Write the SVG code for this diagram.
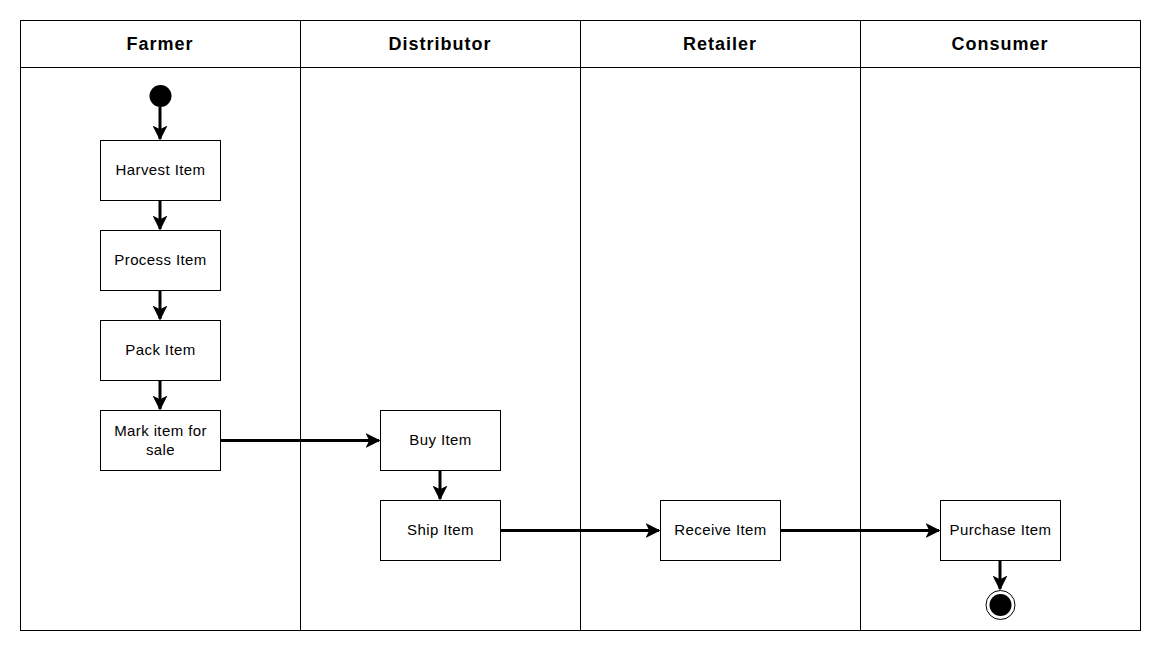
<svg xmlns="http://www.w3.org/2000/svg" width="1161" height="651" viewBox="0 0 1161 651">
<style>
.lane{fill:none;stroke:#000;stroke-width:1}
.hdr{font-family:"Liberation Sans",Arial,sans-serif;font-size:18px;font-weight:bold;letter-spacing:1px;text-anchor:middle;fill:#000}
.box{fill:#fff;stroke:#000;stroke-width:1}
.lbl{font-family:"Liberation Sans",Arial,sans-serif;font-size:15px;letter-spacing:0.4px;text-anchor:middle;fill:#000}
.edge{fill:none;stroke:#000;stroke-width:3}
</style>
<defs>
<marker id="arr" viewBox="0 0 10 10" refX="9" refY="5" markerWidth="5" markerHeight="5" orient="auto" markerUnits="strokeWidth">
<path d="M0,0 L10,5 L0,10 L2.5,5 Z" fill="#000"/>
</marker>
</defs>
<rect width="1161" height="651" fill="#fff"/>
<g id="pool">
<rect class="lane" x="20.5" y="20.5" width="1120" height="610"/>
<line class="lane" x1="20" y1="67.5" x2="1140" y2="67.5"/>
<line class="lane" x1="300.5" y1="20" x2="300.5" y2="630"/>
<line class="lane" x1="580.5" y1="20" x2="580.5" y2="630"/>
<line class="lane" x1="860.5" y1="20" x2="860.5" y2="630"/>
<text class="hdr" x="160" y="50">Farmer</text>
<text class="hdr" x="440" y="50">Distributor</text>
<text class="hdr" x="720" y="50">Retailer</text>
<text class="hdr" x="1000" y="50">Consumer</text>
</g>
<g id="connectors">
<line class="edge" x1="160" y1="107" x2="160" y2="139" marker-end="url(#arr)"/>
<line class="edge" x1="160" y1="200" x2="160" y2="229" marker-end="url(#arr)"/>
<line class="edge" x1="160" y1="290" x2="160" y2="319" marker-end="url(#arr)"/>
<line class="edge" x1="160" y1="380" x2="160" y2="409" marker-end="url(#arr)"/>
<line class="edge" x1="220" y1="440.5" x2="379" y2="440.5" marker-end="url(#arr)"/>
<line class="edge" x1="440" y1="470" x2="440" y2="499" marker-end="url(#arr)"/>
<line class="edge" x1="500" y1="530.5" x2="659" y2="530.5" marker-end="url(#arr)"/>
<line class="edge" x1="780" y1="530.5" x2="939" y2="530.5" marker-end="url(#arr)"/>
<line class="edge" x1="1000" y1="560" x2="1000" y2="589" marker-end="url(#arr)"/>
</g>
<g id="start"><circle cx="160.5" cy="96" r="11" fill="#000"/></g>
<g id="harvest"><rect class="box" x="100.5" y="140.5" width="120" height="60"/><text class="lbl" x="160.5" y="175">Harvest Item</text></g>
<g id="process"><rect class="box" x="100.5" y="230.5" width="120" height="60"/><text class="lbl" x="160.5" y="265">Process Item</text></g>
<g id="pack"><rect class="box" x="100.5" y="320.5" width="120" height="60"/><text class="lbl" x="160.5" y="355">Pack Item</text></g>
<g id="mark"><rect class="box" x="100.5" y="410.5" width="120" height="60"/><text class="lbl" x="160.5" y="436">Mark item for</text><text class="lbl" x="160.5" y="455">sale</text></g>
<g id="buy"><rect class="box" x="380.5" y="410.5" width="120" height="60"/><text class="lbl" x="440.5" y="445">Buy Item</text></g>
<g id="ship"><rect class="box" x="380.5" y="500.5" width="120" height="60"/><text class="lbl" x="440.5" y="535">Ship Item</text></g>
<g id="receive"><rect class="box" x="660.5" y="500.5" width="120" height="60"/><text class="lbl" x="720.5" y="535">Receive Item</text></g>
<g id="purchase"><rect class="box" x="940.5" y="500.5" width="120" height="60"/><text class="lbl" x="1000.5" y="535">Purchase Item</text></g>
<g id="end"><circle cx="1000.5" cy="605" r="14.5" fill="#fff" stroke="#000" stroke-width="1"/><circle cx="1000.5" cy="605" r="11" fill="#000"/></g>
</svg>
